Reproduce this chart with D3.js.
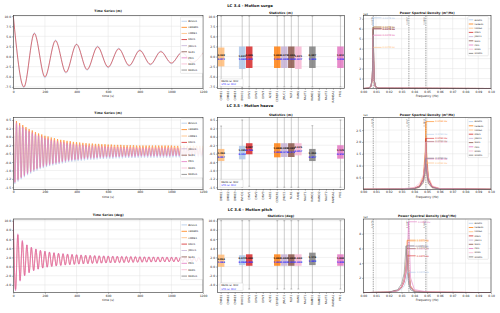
<!DOCTYPE html>
<html>
<head>
<meta charset="utf-8">
<script src="https://cdn.jsdelivr.net/npm/d3@7/dist/d3.min.js"></script>
<style>
  body { margin: 0; background: #fff; }
  text { font-family: "DejaVu Sans", sans-serif; }
</style>
</head>
<body>
<svg id="fig" width="500" height="313"></svg>
<script>
// ---- participants ----
const names = ["BVHO1", "CENER1", "CMRE1", "DNV1", "JMUC1", "NLR1", "PRI1", "RAM1", "RAMO1"];
const colors = ["#aec7e8", "#ff7f0e", "#ffbb78", "#d62728", "#c5b0d5", "#8c564b", "#e377c2", "#f7b6d2", "#7f7f7f"];
const statCats = ["CMRE1", "CMRE2", "CMRE3", "BVHO1", "DNV1", "DNV2", "DNV3", "ADE1", "CENER1",
                  "JMUC1", "NLR1", "RAM1", "NAUT1", "RAMO1", "RAMO2", "NAUT2", "RAMSA1", "PRI1"];
const statSlot = [3, 8, 0, 4, 9, 10, 17, 11, 13];   // category of each participant
const tsTicks = [0, 200, 400, 600, 800, 1000, 1200];
const psdTicks = [0, 0.01, 0.02, 0.03, 0.04, 0.05, 0.06, 0.07, 0.08, 0.09, 0.10];
const natFreqs = [0.0078, 0.0357, 0.0490];

// ---- LC 3.4 surge ----
const surgeT = [0, 67, 133, 200, 267, 333, 400, 467, 533, 600, 667, 733, 800, 867, 933, 1000, 1067, 1133, 1200];
const surgeBVHO1 = [10.0, -7.7, 5.9, -5.3, 4.1, -4.1, 3.1, -3.4, 2.6, -2.8, 2.1, -2.4, 1.7, -2.1, 1.4, -1.8, 1.2, -1.6, 1.1];
const surgeDNV1 = [10.0, -7.5, 5.7, -5.0, 3.9, -3.9, 3.0, -3.2, 2.4, -2.6, 1.9, -2.2, 1.5, -1.9, 1.2, -1.6, 1.0, -1.4, 0.9];
const surgeTicks = [-7.5, -5, -2.5, 0, 2.5, 5, 7.5, 10];
const surgeTickLabels = ["-7.5", "-5.0", "-2.5", "0.0", "2.5", "5.0", "7.5", "10.0"];
const surgeMean = [-0.29, -0.17, -0.10, -0.17, -0.17, -0.17, -0.17, -0.29, -0.17];
const surgeStd = [2.78, 2.66, 2.33, 2.66, 2.66, 2.66, 2.66, 2.78, 2.66];
const surgeMax = [10.0, 10.0, 10.0, 10.0, 10.0, 10.0, 10.0, 10.0, 10.0];
const surgeMin = [-7.7, -7.5, -7.5, -7.5, -7.5, -7.5, -7.5, -7.6, -7.5];
const surgeMeanRel = ["1.023", "1.000", "0.998", "1.005", "0.975", "1.000", "1.012", "1.021", "0.987"];
const surgeStdRel = ["1.043", "1.000", "0.872", "1.002", "1.008", "1.000", "1.004", "1.037", "1.000"];
const psdSurgeF = [0, 0.004, 0.006, 0.007, 0.0075, 0.0078, 0.0081, 0.0086, 0.0095, 0.012, 0.1];
const psdSurge = [
  [0, 0.03, 0.25, 1.2, 3.6, 7.10, 3.4, 0.9, 0.20, 0.03, 0],
  [0, 0.03, 0.22, 1.0, 3.1, 6.17, 3.0, 0.8, 0.18, 0.03, 0],
  [0, 0.02, 0.15, 0.7, 2.0, 4.13, 2.0, 0.5, 0.12, 0.02, 0],
  [0, 0.03, 0.20, 1.0, 3.0, 6.00, 2.9, 0.8, 0.17, 0.03, 0],
  [0, 0.03, 0.20, 1.0, 3.0, 6.00, 2.9, 0.8, 0.17, 0.03, 0],
  [0, 0.03, 0.20, 1.0, 3.0, 6.00, 2.9, 0.8, 0.17, 0.03, 0],
  [0, 0.03, 0.18, 0.9, 2.7, 5.35, 2.6, 0.7, 0.15, 0.03, 0],
  [0, 0.03, 0.18, 0.9, 2.7, 5.35, 2.6, 0.7, 0.15, 0.03, 0],
  [0, 0.03, 0.22, 1.0, 3.1, 6.17, 3.0, 0.8, 0.18, 0.03, 0]
];

// ---- LC 3.5 heave ----
const heaveT = d3.range(0, 1201, 10);
const heavePRI1 = [0.50, -1.36, 0.42, -1.29, 0.35, -1.22, 0.29, -1.16, 0.23, -1.10,
  0.17, -1.05, 0.13, -1.00, 0.08, -0.96, 0.04, -0.92, 0.01, -0.89,
  -0.03, -0.86, -0.05, -0.83, -0.08, -0.81, -0.10, -0.79, -0.13, -0.77,
  -0.15, -0.75, -0.16, -0.73, -0.18, -0.71, -0.19, -0.70, -0.21, -0.69,
  -0.22, -0.68, -0.23, -0.67, -0.24, -0.66, -0.25, -0.65, -0.26, -0.64,
  -0.26, -0.64, -0.27, -0.63, -0.27, -0.62, -0.28, -0.62, -0.28, -0.61,
  -0.29, -0.61, -0.29, -0.61, -0.30, -0.60, -0.30, -0.60, -0.30, -0.60,
  -0.31, -0.59, -0.31, -0.59, -0.31, -0.59, -0.31, -0.59, -0.32, -0.58,
  -0.32, -0.58, -0.32, -0.58, -0.32, -0.58, -0.32, -0.58, -0.32, -0.58,
  -0.32, -0.58, -0.32, -0.58, -0.32, -0.58, -0.32, -0.58, -0.32, -0.58,
  -0.32, -0.57, -0.33, -0.57, -0.33, -0.57, -0.33, -0.57, -0.33, -0.57,
  -0.33, -0.57, -0.33, -0.57, -0.33, -0.57, -0.33, -0.57, -0.33, -0.57,
  -0.33];
const heaveCENER1 = [0.52, -1.34, 0.47, -1.26, 0.41, -1.19, 0.35, -1.13, 0.29, -1.07,
  0.23, -1.02, 0.19, -0.97, 0.14, -0.93, 0.10, -0.89, 0.07, -0.86,
  0.03, -0.83, 0.01, -0.80, -0.02, -0.78, -0.04, -0.76, -0.07, -0.74,
  -0.09, -0.72, -0.10, -0.70, -0.12, -0.68, -0.13, -0.67, -0.15, -0.66,
  -0.16, -0.65, -0.17, -0.64, -0.18, -0.63, -0.19, -0.62, -0.20, -0.61,
  -0.20, -0.61, -0.21, -0.60, -0.21, -0.59, -0.22, -0.59, -0.22, -0.58,
  -0.23, -0.58, -0.23, -0.58, -0.24, -0.57, -0.24, -0.57, -0.24, -0.57,
  -0.25, -0.56, -0.25, -0.56, -0.25, -0.56, -0.25, -0.56, -0.26, -0.55,
  -0.26, -0.55, -0.26, -0.55, -0.26, -0.55, -0.26, -0.55, -0.26, -0.55,
  -0.26, -0.55, -0.26, -0.55, -0.26, -0.55, -0.26, -0.55, -0.26, -0.55,
  -0.26, -0.54, -0.27, -0.54, -0.27, -0.54, -0.27, -0.54, -0.27, -0.54,
  -0.27, -0.54, -0.27, -0.54, -0.27, -0.54, -0.27, -0.54, -0.27, -0.54,
  -0.27];
const heaveBVHO1 = [0.48, -1.40, 0.38, -1.33, 0.31, -1.26, 0.25, -1.20, 0.19, -1.14,
  0.13, -1.09, 0.08, -1.04, 0.04, -1.00, -0.01, -0.96, -0.04, -0.93,
  -0.08, -0.90, -0.10, -0.87, -0.13, -0.85, -0.15, -0.83, -0.18, -0.81,
  -0.20, -0.79, -0.21, -0.77, -0.23, -0.75, -0.24, -0.74, -0.26, -0.73,
  -0.27, -0.72, -0.28, -0.71, -0.29, -0.70, -0.30, -0.69, -0.31, -0.68,
  -0.31, -0.68, -0.32, -0.67, -0.32, -0.66, -0.33, -0.66, -0.33, -0.65,
  -0.34, -0.65, -0.34, -0.65, -0.35, -0.64, -0.35, -0.64, -0.35, -0.64,
  -0.36, -0.63, -0.36, -0.63, -0.36, -0.63, -0.36, -0.63, -0.37, -0.62,
  -0.37, -0.62, -0.37, -0.62, -0.37, -0.62, -0.37, -0.62, -0.37, -0.62,
  -0.37, -0.62, -0.37, -0.62, -0.37, -0.62, -0.37, -0.62, -0.37, -0.62,
  -0.37, -0.61, -0.38, -0.61, -0.38, -0.61, -0.38, -0.61, -0.38, -0.61,
  -0.38, -0.61, -0.38, -0.61, -0.38, -0.61, -0.38, -0.61, -0.38, -0.61,
  -0.38];
const heaveTicks = [-1.5, -1.25, -1.0, -0.75, -0.5, -0.25, 0, 0.25, 0.5];
const heaveTickLabels = ["-1.5", "-1.2", "-1.0", "-0.8", "-0.5", "-0.2", "0.0", "0.2", "0.5"];
const heaveMean = [-0.47, -0.40, -0.54, -0.355, -0.395, -0.395, -0.45, -0.37, -0.54];
const heaveStd = [0.20, 0.21, 0.18, 0.165, 0.205, 0.205, 0.20, 0.18, 0.18];
const heaveMax = [0.50, 0.70, 0.32, 0.70, 0.70, 0.70, 0.50, 0.70, 0.33];
const heaveMin = [-1.50, -1.50, -1.45, -1.47, -1.50, -1.50, -1.50, -1.50, -1.58];
const heaveMeanRel = ["1.305", "1.000", "1.350", "0.887", "0.988", "0.988", "1.125", "0.925", "1.350"];
const heaveStdRel = ["0.952", "1.000", "0.857", "0.786", "0.976", "0.976", "0.952", "0.857", "0.857"];
const psdHeaveF = [0, 0.03, 0.04, 0.044, 0.047, 0.0485, 0.049, 0.0495, 0.051, 0.054, 0.06, 0.1];
const psdHeave = [
  [0, 0.01, 0.04, 0.12, 0.45, 1.30, 2.32, 1.30, 0.42, 0.10, 0.02, 0],
  [0, 0.01, 0.05, 0.15, 0.55, 1.60, 2.86, 1.60, 0.50, 0.12, 0.03, 0],
  [0, 0.01, 0.03, 0.08, 0.25, 0.65, 1.11, 0.62, 0.22, 0.06, 0.01, 0],
  [0, 0.01, 0.04, 0.12, 0.42, 1.20, 2.15, 1.20, 0.40, 0.10, 0.02, 0],
  [0, 0.01, 0.03, 0.09, 0.30, 0.75, 1.31, 0.72, 0.26, 0.07, 0.01, 0],
  [0, 0.01, 0.04, 0.11, 0.40, 1.15, 2.02, 1.10, 0.38, 0.09, 0.02, 0],
  [0, 0.01, 0.05, 0.14, 0.40, 0.85, 1.28, 0.80, 0.35, 0.10, 0.02, 0],
  [0, 0.02, 0.08, 0.25, 0.60, 1.20, 2.00, 1.10, 0.50, 0.15, 0.03, 0],
  [0, 0.01, 0.03, 0.09, 0.30, 0.75, 1.31, 0.72, 0.26, 0.07, 0.01, 0]
];

// ---- LC 3.6 pitch ----
const pitchT = d3.range(84).map(k => k * 14.3);
const pitchPRI1 = [10.00, -5.30, 7.15, -3.20, 5.75, -2.04, 4.77, -1.38, 4.24, -0.94,
  3.86, -0.61, 3.58, -0.37, 3.37, -0.18, 3.20, -0.02, 3.06, 0.10,
  2.94, 0.21, 2.85, 0.30, 2.76, 0.38, 2.69, 0.44, 2.63, 0.50,
  2.57, 0.55, 2.52, 0.60, 2.48, 0.64, 2.44, 0.68, 2.40, 0.72,
  2.37, 0.75, 2.34, 0.77, 2.31, 0.80, 2.29, 0.82, 2.27, 0.84,
  2.25, 0.86, 2.23, 0.88, 2.21, 0.90, 2.19, 0.92, 2.17, 0.93,
  2.16, 0.95, 2.15, 0.96, 2.13, 0.97, 2.12, 0.99, 2.11, 1.00,
  2.10, 1.01, 2.09, 1.02, 2.08, 1.03, 2.07, 1.04, 2.06, 1.05,
  2.05, 1.05, 2.04, 1.06];
const pitchDNV1 = [10.00, -5.00, 6.90, -3.00, 5.50, -1.95, 4.68, -1.30, 4.16, -0.86,
  3.78, -0.54, 3.50, -0.30, 3.29, -0.11, 3.12, 0.04, 2.98, 0.16,
  2.86, 0.27, 2.77, 0.36, 2.68, 0.43, 2.61, 0.50, 2.55, 0.55,
  2.49, 0.60, 2.44, 0.65, 2.40, 0.69, 2.36, 0.72, 2.32, 0.76,
  2.29, 0.79, 2.26, 0.81, 2.23, 0.84, 2.21, 0.86, 2.19, 0.88,
  2.17, 0.90, 2.15, 0.92, 2.13, 0.94, 2.11, 0.96, 2.09, 0.97,
  2.08, 0.99, 2.07, 1.00, 2.05, 1.01, 2.04, 1.03, 2.03, 1.04,
  2.02, 1.05, 2.01, 1.06, 2.00, 1.07, 1.99, 1.08, 1.98, 1.09,
  1.97, 1.09, 1.96, 1.10];
const pitchTicks = [-4, -2, 0, 2, 4, 6, 8, 10];
const pitchTickLabels = ["-4.0", "-2.0", "0.0", "2.0", "4.0", "6.0", "8.0", "10.0"];
const pitchMean = [1.38, 1.42, 1.27, 1.42, 1.42, 1.42, 1.42, 1.42, 1.67];
const pitchStd = [1.08, 1.25, 1.33, 1.25, 1.25, 1.25, 1.25, 1.25, 1.36];
const pitchMax = [10.0, 10.0, 10.0, 10.0, 10.0, 10.0, 10.0, 10.0, 10.3];
const pitchMin = [-4.9, -4.9, -4.9, -4.9, -4.9, -4.9, -4.9, -4.9, -5.6];
const pitchMeanRel = ["0.972", "1.000", "0.894", "1.000", "1.000", "1.000", "1.000", "1.000", "1.176"];
const pitchStdRel = ["0.864", "1.000", "1.064", "1.000", "1.000", "1.000", "1.000", "1.000", "1.088"];
const psdPitchF = [0, 0.02, 0.027, 0.03, 0.032, 0.0335, 0.0345, 0.0355, 0.037, 0.04, 0.05, 0.1];
const psdPitch = [
  [0, 0.04, 0.20, 0.50, 0.90, 1.60, 2.76, 1.40, 0.45, 0.10, 0.03, 0],
  [0, 0.05, 0.30, 0.80, 1.80, 3.80, 7.12, 3.20, 0.90, 0.20, 0.05, 0],
  [0, 0.05, 0.30, 0.80, 1.80, 3.70, 7.00, 3.10, 0.90, 0.20, 0.05, 0],
  [0, 0.05, 0.30, 0.70, 1.40, 2.70, 5.00, 2.40, 0.70, 0.15, 0.04, 0],
  [0, 0.05, 0.30, 0.80, 1.70, 3.30, 6.30, 2.90, 0.80, 0.18, 0.04, 0],
  [0, 0.05, 0.30, 0.80, 1.60, 3.20, 5.99, 2.80, 0.80, 0.18, 0.04, 0],
  [0, 0.05, 0.30, 0.80, 1.60, 3.00, 5.50, 9.62, 2.00, 0.40, 0.08, 0],
  [0, 0.05, 0.30, 0.80, 1.60, 3.10, 5.90, 2.70, 0.80, 0.18, 0.04, 0],
  [0, 0.06, 0.40, 1.20, 2.60, 6.35, 3.50, 1.20, 0.40, 0.10, 0.03, 0]
];

// ---- layout ----
const svg = d3.select("#fig");
const rows = [{top: 15.5, bot: 88.5}, {top: 117.3, bot: 189.3}, {top: 219, bot: 292.6}];
const supY = [7, 106.7, 210.7];
const tsX = [13.3, 203], stX = [217.3, 344.3], psX = [363.3, 491];
const gridCol = "#e3e3e3", frameCol = "#333";
let clipN = 0;

function clip(x0, x1, y0, y1) {
  const id = "c" + (clipN++);
  svg.append("clipPath").attr("id", id).append("rect")
    .attr("x", x0).attr("y", y0).attr("width", x1 - x0).attr("height", y1 - y0);
  return "url(#" + id + ")";
}

function grid(g, x, y, xt, yt, r, xr) {
  g.selectAll(null).data(xt).join("line")
    .attr("x1", d => x(d)).attr("x2", d => x(d)).attr("y1", r.top).attr("y2", r.bot)
    .attr("stroke", gridCol).attr("stroke-width", 0.5);
  g.selectAll(null).data(yt).join("line")
    .attr("y1", d => y(d)).attr("y2", d => y(d)).attr("x1", xr[0]).attr("x2", xr[1])
    .attr("stroke", gridCol).attr("stroke-width", 0.5);
}

function frame(g, xr, r) {
  g.append("rect").attr("x", xr[0]).attr("y", r.top)
    .attr("width", xr[1] - xr[0]).attr("height", r.bot - r.top)
    .attr("fill", "none").attr("stroke", frameCol).attr("stroke-width", 0.6);
}

function styleAxis(a) {
  a.select(".domain").remove();
  a.attr("font-size", 3).attr("font-family", "DejaVu Sans");
  a.selectAll("line").attr("stroke", frameCol).attr("stroke-width", 0.4);
  a.selectAll("text").attr("fill", "#222");
}

function yAxis(g, y, xr, ticks, labels) {
  g.append("g").attr("transform", `translate(${xr[0]},0)`)
    .call(d3.axisLeft(y).tickValues(ticks).tickFormat((d, i) => labels[i]).tickSize(1.2).tickPadding(1))
    .call(styleAxis);
}

function title(g, x, y, txt, size) {
  g.append("text").attr("x", x).attr("y", y).attr("text-anchor", "middle")
    .attr("font-size", size).attr("font-weight", "bold").attr("fill", "#111").text(txt);
}

function legend(g, x0, y0, w, step, fs, lineLen) {
  g.append("rect").attr("x", x0).attr("y", y0).attr("width", w).attr("height", step * names.length + 1.5)
    .attr("rx", 0.8).attr("fill", "#fff").attr("fill-opacity", 0.85)
    .attr("stroke", "#d0d0d0").attr("stroke-width", 0.4);
  names.forEach((n, i) => {
    const yy = y0 + 1.2 + step * (i + 0.5);
    g.append("line").attr("x1", x0 + 1).attr("x2", x0 + 1 + lineLen).attr("y1", yy).attr("y2", yy)
      .attr("stroke", colors[i]).attr("stroke-width", 0.8);
    g.append("text").attr("x", x0 + 2.2 + lineLen).attr("y", yy + fs * 0.35)
      .attr("font-size", fs).attr("fill", "#222").text(n);
  });
}

function drawRow(k, cfg) {
  const r = rows[k];
  const g = svg.append("g");
  title(g, 250, supY[k], cfg.sup, 3.8);

  // --- time series ---
  const x = d3.scaleLinear().domain([0, 1200]).range(tsX);
  const y = d3.scaleLinear().domain(cfg.yDom).range([r.bot, r.top]);
  grid(g, x, y, tsTicks, cfg.yTicks, r, tsX);
  const lc = g.append("g").attr("clip-path", clip(tsX[0], tsX[1], r.top, r.bot));
  cfg.series.forEach(s => {
    const line = d3.line().x((d, i) => x(s.t[i])).y(d => y(d)).curve(d3.curveMonotoneX);
    lc.append("path").attr("d", line(s.v)).attr("fill", "none")
      .attr("stroke", colors[names.indexOf(s.name)]).attr("stroke-width", 0.6);
  });
  frame(g, tsX, r);
  g.append("g").attr("transform", `translate(0,${r.bot})`)
    .call(d3.axisBottom(x).tickValues(tsTicks).tickFormat(d3.format("d")).tickSize(1.2).tickPadding(0.8))
    .call(styleAxis);
  yAxis(g, y, tsX, cfg.yTicks, cfg.yLabels);
  g.append("text").attr("x", (tsX[0] + tsX[1]) / 2).attr("y", r.bot + 8.2).attr("text-anchor", "middle")
    .attr("font-size", 3).attr("fill", "#222").text("time (s)");
  title(g, (tsX[0] + tsX[1]) / 2, r.top - 3.2, "Time Series (" + cfg.unit + ")", 3.1);
  legend(g, 180.5, r.top + 1.5, 22, cfg.tsLegStep, 2.5, 5.5);

  // --- statistics ---
  const sx = d3.scaleLinear().domain([-0.55, 17.55]).range(stX);
  g.selectAll(null).data(cfg.yTicks).join("line")
    .attr("x1", stX[0]).attr("x2", stX[1]).attr("y1", d => y(d)).attr("y2", d => y(d))
    .attr("stroke", gridCol).attr("stroke-width", 0.5);
  const sc = g.append("g").attr("clip-path", clip(stX[0], stX[1], r.top, r.bot));
  const bw = 0.93;
  names.forEach((n, i) => {
    const c = sx(statSlot[i]);
    sc.append("line").attr("x1", c).attr("x2", c).attr("y1", y(cfg.max[i])).attr("y2", y(cfg.min[i]))
      .attr("stroke", "#999").attr("stroke-width", 0.5);
    [cfg.max[i], cfg.min[i]].forEach(v => {
      sc.append("line").attr("x1", c - 0.9).attr("x2", c + 0.9).attr("y1", y(v)).attr("y2", y(v))
        .attr("stroke", "#777").attr("stroke-width", 0.5);
    });
    const hw = (sx(bw) - sx(0)) / 2;
    sc.append("rect").attr("x", c - hw).attr("width", 2 * hw)
      .attr("y", y(cfg.mean[i] + cfg.std[i])).attr("height", y(cfg.mean[i] - cfg.std[i]) - y(cfg.mean[i] + cfg.std[i]))
      .attr("fill", colors[i]).attr("fill-opacity", 0.85);
    const ym = y(cfg.mean[i]);
    sc.append("text").attr("x", c).attr("y", ym - 1.2).attr("text-anchor", "middle")
      .attr("font-size", 2.4).attr("font-weight", "bold").attr("fill", "#111").text(cfg.meanRel[i]);
    sc.append("text").attr("x", c).attr("y", ym + 2.7).attr("text-anchor", "middle")
      .attr("font-size", 2.4).attr("font-weight", "bold").attr("fill", "#2a2aff").text(cfg.stdRel[i]);
  });
  // stats legend
  g.append("rect").attr("x", 220).attr("y", r.bot - 9.6).attr("width", 23).attr("height", 7.6)
    .attr("rx", 0.6).attr("fill", "#fff").attr("stroke", "#ccc").attr("stroke-width", 0.4);
  g.append("text").attr("x", 221.3).attr("y", r.bot - 6.3).attr("font-size", 2.3).attr("fill", "#111").text("MEAN rel. MAX");
  g.append("text").attr("x", 221.3).attr("y", r.bot - 3.1).attr("font-size", 2.3).attr("fill", "#2a2aff").text("STD rel. MAX");
  frame(g, stX, r);
  yAxis(g, y, stX, cfg.yTicks, cfg.yLabels);
  const xa = g.append("g");
  statCats.forEach((c, i) => {
    xa.append("line").attr("x1", sx(i)).attr("x2", sx(i)).attr("y1", r.bot).attr("y2", r.bot + 1.2)
      .attr("stroke", frameCol).attr("stroke-width", 0.4);
    xa.append("text").attr("transform", `translate(${sx(i) + 1},${r.bot + 2.2}) rotate(-90)`)
      .attr("text-anchor", "end").attr("font-size", 2.8).attr("fill", "#222").text(c);
  });
  title(g, (stX[0] + stX[1]) / 2, r.top - 1.6, "Statistics (" + cfg.unit + ")", 3.1);

  // --- PSD ---
  const px = d3.scaleLinear().domain([0, 0.1]).range(psX);
  const py = d3.scaleLinear().domain(cfg.psdDom).range([r.bot, r.top]);
  grid(g, px, py, psdTicks, cfg.psdTicks, r, psX);
  const pc = g.append("g").attr("clip-path", clip(psX[0], psX[1], r.top, r.bot));
  natFreqs.forEach(f => {
    pc.append("line").attr("x1", px(f)).attr("x2", px(f)).attr("y1", r.top).attr("y2", r.bot)
      .attr("stroke", "#444").attr("stroke-width", 0.5).attr("stroke-dasharray", "1.4,0.9");
    pc.append("text").attr("transform", `translate(${px(f) - 0.6},${r.top + 1.5}) rotate(-90)`)
      .attr("text-anchor", "end").attr("font-size", 2.2).attr("fill", "#333").text(f.toFixed(4));
  });
  cfg.psd.forEach((vals, i) => {
    const line = d3.line().x((d, j) => px(cfg.psdF[j])).y(d => py(d));
    pc.append("path").attr("d", line(vals)).attr("fill", "none")
      .attr("stroke", colors[i]).attr("stroke-width", 0.6);
  });
  cfg.psd.forEach((vals, i) => {
    const j = d3.maxIndex(vals), fp = cfg.psdF[j], vp = vals[j];
    pc.append("line").attr("x1", px(fp)).attr("x2", px(fp + 0.0065)).attr("y1", py(vp)).attr("y2", py(vp))
      .attr("stroke", colors[i]).attr("stroke-width", 0.6);
    pc.append("text").attr("x", px(fp + 0.0073)).attr("y", py(vp) + 0.8)
      .attr("font-size", 2.4).attr("fill", colors[i]).text(fp.toFixed(4) + " Hz");
  });
  frame(g, psX, r);
  g.append("g").attr("transform", `translate(0,${r.bot})`)
    .call(d3.axisBottom(px).tickValues(psdTicks).tickFormat(d3.format(".2f")).tickSize(1.2).tickPadding(0.8))
    .call(styleAxis);
  g.append("g").attr("transform", `translate(${psX[0]},0)`)
    .call(d3.axisLeft(py).tickValues(cfg.psdTicks).tickFormat(cfg.psdFmt).tickSize(1.2).tickPadding(1))
    .call(styleAxis);
  g.append("text").attr("x", psX[0]).attr("y", r.top - 1).attr("font-size", 2.4).attr("fill", "#222").text(cfg.psdOffset);
  g.append("text").attr("x", (psX[0] + psX[1]) / 2).attr("y", r.bot + 8.2).attr("text-anchor", "middle")
    .attr("font-size", 3).attr("fill", "#222").text("Frequency (Hz)");
  title(g, (psX[0] + psX[1]) / 2, r.top - 1.8, "Power Spectral Density (" + cfg.unit + "²/Hz)", 3.1);
  legend(g, 467.8, r.top + 1, 20.5, 4.2, 2.2, 4.5);
}

drawRow(0, {
  sup: "LC 3.4 - Motion surge", unit: "m", yDom: [-7.9, 10.15],
  yTicks: surgeTicks, yLabels: surgeTickLabels, tsLegStep: 6.1,
  series: [{name: "BVHO1", t: surgeT, v: surgeBVHO1}, {name: "DNV1", t: surgeT, v: surgeDNV1}],
  mean: surgeMean, std: surgeStd, max: surgeMax, min: surgeMin, meanRel: surgeMeanRel, stdRel: surgeStdRel,
  psdF: psdSurgeF, psd: psdSurge, psdDom: [0, 7.33], psdTicks: [1, 2, 3, 4, 5, 6, 7],
  psdFmt: d3.format("d"), psdOffset: "1e3"
});
drawRow(1, {
  sup: "LC 3.5 - Motion heave", unit: "m", yDom: [-1.56, 0.58],
  yTicks: heaveTicks, yLabels: heaveTickLabels, tsLegStep: 6.4,
  series: [{name: "CENER1", t: heaveT, v: heaveCENER1}, {name: "BVHO1", t: heaveT, v: heaveBVHO1},
           {name: "PRI1", t: heaveT, v: heavePRI1}],
  mean: heaveMean, std: heaveStd, max: heaveMax, min: heaveMin, meanRel: heaveMeanRel, stdRel: heaveStdRel,
  psdF: psdHeaveF, psd: psdHeave, psdDom: [0, 3.04], psdTicks: [0.5, 1.0, 1.5, 2.0, 2.5],
  psdFmt: d3.format(".1f"), psdOffset: "1e1"
});
drawRow(2, {
  sup: "LC 3.6 - Motion pitch", unit: "deg", yDom: [-5.68, 10.37],
  yTicks: pitchTicks, yLabels: pitchTickLabels, tsLegStep: 6.4,
  series: [{name: "DNV1", t: pitchT, v: pitchDNV1}, {name: "PRI1", t: pitchT, v: pitchPRI1}],
  mean: pitchMean, std: pitchStd, max: pitchMax, min: pitchMin, meanRel: pitchMeanRel, stdRel: pitchStdRel,
  psdF: psdPitchF, psd: psdPitch, psdDom: [0, 10.0], psdTicks: [2, 4, 6, 8],
  psdFmt: d3.format("d"), psdOffset: "1e2"
});
</script>
</body>
</html>
